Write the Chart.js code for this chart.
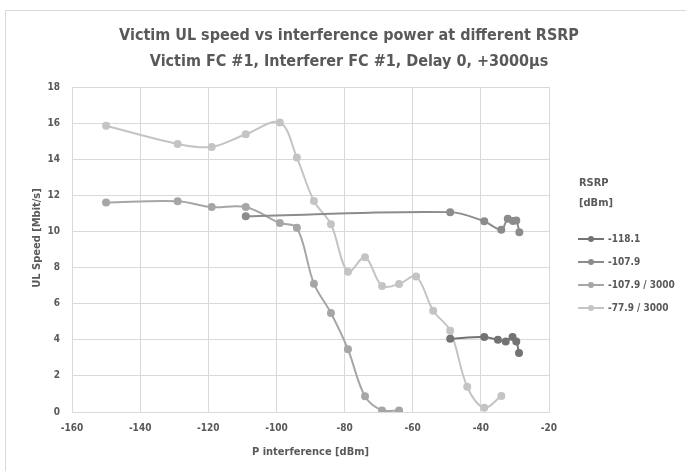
<!DOCTYPE html>
<html>
<head>
<meta charset="utf-8">
<script src="https://cdn.jsdelivr.net/npm/chart.js@4.4.1/dist/chart.umd.min.js"></script>
<style>
  html, body { margin: 0; padding: 0; background: #fff; }
  #wrap { position: relative; width: 686px; height: 471px; overflow: hidden; }
  #frame { position: absolute; left: 5px; top: 10px; width: 700px; height: 480px; border: 1px solid #d9d9d9; }
  canvas { position: absolute; left: 0; top: 0; }
</style>
</head>
<body>
<div id="wrap">
  <div id="frame"></div>
  <canvas id="chart" width="686" height="471"></canvas>
</div>
<script>
// Series labels (RSRP)
const seriesLabels = ['-118.1', '-107.9', '-107.9 / 3000', '-77.9 / 3000'];

// -118.1 dBm
const x118 = [-49, -39, -35, -32.7, -30.7, -29.6, -28.8];
const y118 = [4.06, 4.15, 4.0, 3.91, 4.15, 3.91, 3.27];

// -107.9 dBm
const x107 = [-109, -49, -39, -34, -32.1, -30.6, -29.6, -28.7];
const y107 = [10.84, 11.07, 10.56, 10.1, 10.71, 10.58, 10.61, 9.95];

// -107.9 dBm / 3000
const x107d = [-150, -129, -119, -109, -99, -94, -89, -84, -79, -74, -69, -64];
const y107d = [11.6, 11.67, 11.35, 11.35, 10.47, 10.2, 7.11, 5.48, 3.47, 0.87, 0.09, 0.09];

// -77.9 dBm / 3000
const x77d = [-150, -129, -119, -109, -99, -94, -89, -84, -79, -74, -69, -64, -59, -54, -49, -44, -39, -34];
const y77d = [15.85, 14.85, 14.68, 15.38, 16.03, 14.09, 11.69, 10.4, 7.77, 8.57, 6.98, 7.09, 7.5, 5.61, 4.5, 1.4, 0.24, 0.89];

const seriesColors = ['#737373', '#8c8c8c', '#a6a6a6', '#c4c4c4'];

const titleLines = [
    'Victim UL speed vs interference power at different RSRP',
    'Victim FC #1, Interferer FC #1, Delay 0, +3000\u00b5s'
];
const xTitle = 'P interference [dBm]';
const yTitle = 'UL Speed [Mbit/s]';
const legendTitle = ['RSRP', '[dBm]'];

const FONT = "'Liberation Sans Narrow', 'DejaVu Sans Condensed', 'Noto Sans', sans-serif";
const TEXT = '#595959';
const GRID = '#d9d9d9';

const toPoints = (xs, ys) => xs.map((x, i) => ({ x: x, y: ys[i] }));
const allX = [x118, x107, x107d, x77d];
const allY = [y118, y107, y107d, y77d];

const datasets = seriesLabels.map((label, i) => ({
    label: label,
    data: toPoints(allX[i], allY[i]),
    borderColor: seriesColors[i],
    backgroundColor: seriesColors[i],
    pointBackgroundColor: seriesColors[i],
    pointBorderColor: seriesColors[i],
    borderWidth: 2,
    pointRadius: 3,
    tension: 0.35,
    fill: false
}));

// Titles, y axis title and side legend drawn on the canvas
const textPlugin = {
    id: 'textPlugin',
    afterDraw(chart) {
        const ctx = chart.ctx;
        ctx.save();
        ctx.fillStyle = TEXT;
        ctx.textBaseline = 'middle';

        // main title
        ctx.textAlign = 'center';
        ctx.font = `bold 16px ${FONT}`;
        ctx.fillText(titleLines[0], 349, 36);
        ctx.fillText(titleLines[1], 349, 62);

        // y axis title
        ctx.save();
        ctx.translate(37, 238);
        ctx.rotate(-Math.PI / 2);
        ctx.font = `bold 11px ${FONT}`;
        ctx.fillText(yTitle, 0, 0);
        ctx.restore();

        // legend
        ctx.textAlign = 'left';
        ctx.font = `bold 11px ${FONT}`;
        ctx.fillText(legendTitle[0], 579, 183);
        ctx.fillText(legendTitle[1], 579, 203);
        chart.data.datasets.forEach((ds, i) => {
            const y = 239 + i * 23;
            ctx.strokeStyle = ds.borderColor;
            ctx.lineWidth = 2;
            ctx.beginPath();
            ctx.moveTo(578, y);
            ctx.lineTo(604, y);
            ctx.stroke();
            ctx.fillStyle = ds.borderColor;
            ctx.beginPath();
            ctx.arc(591, y, 3, 0, Math.PI * 2);
            ctx.fill();
            ctx.fillStyle = TEXT;
            ctx.font = `bold 10px ${FONT}`;
            ctx.fillText(ds.label, 608, y);
        });
        ctx.restore();
    }
};

const ctx = document.getElementById('chart').getContext('2d');
new Chart(ctx, {
    type: 'line',
    data: { datasets: datasets },
    options: {
        responsive: false,
        animation: false,
        layout: { padding: { top: 87, right: 137, left: 0, bottom: 0 } },
        plugins: {
            legend: { display: false },
            title: { display: false },
            tooltip: { enabled: false }
        },
        scales: {
            x: {
                type: 'linear',
                min: -160,
                max: -20,
                ticks: { stepSize: 20, color: TEXT, font: { family: FONT, size: 10, weight: 'bold' }, padding: 10 },
                grid: { color: GRID, drawTicks: false },
                border: { color: GRID },
                title: { display: true, text: xTitle, color: TEXT, font: { family: FONT, size: 11, weight: 'bold' }, padding: { top: 0, bottom: 12 } },
                afterFit(scale) { scale.height = 59; }
            },
            y: {
                min: 0,
                max: 18,
                ticks: { stepSize: 2, color: TEXT, font: { family: FONT, size: 10, weight: 'bold' }, padding: 12 },
                grid: { color: GRID, drawTicks: false },
                border: { color: GRID },
                afterFit(scale) { scale.width = 72; }
            }
        }
    },
    plugins: [textPlugin]
});
</script>
</body>
</html>
